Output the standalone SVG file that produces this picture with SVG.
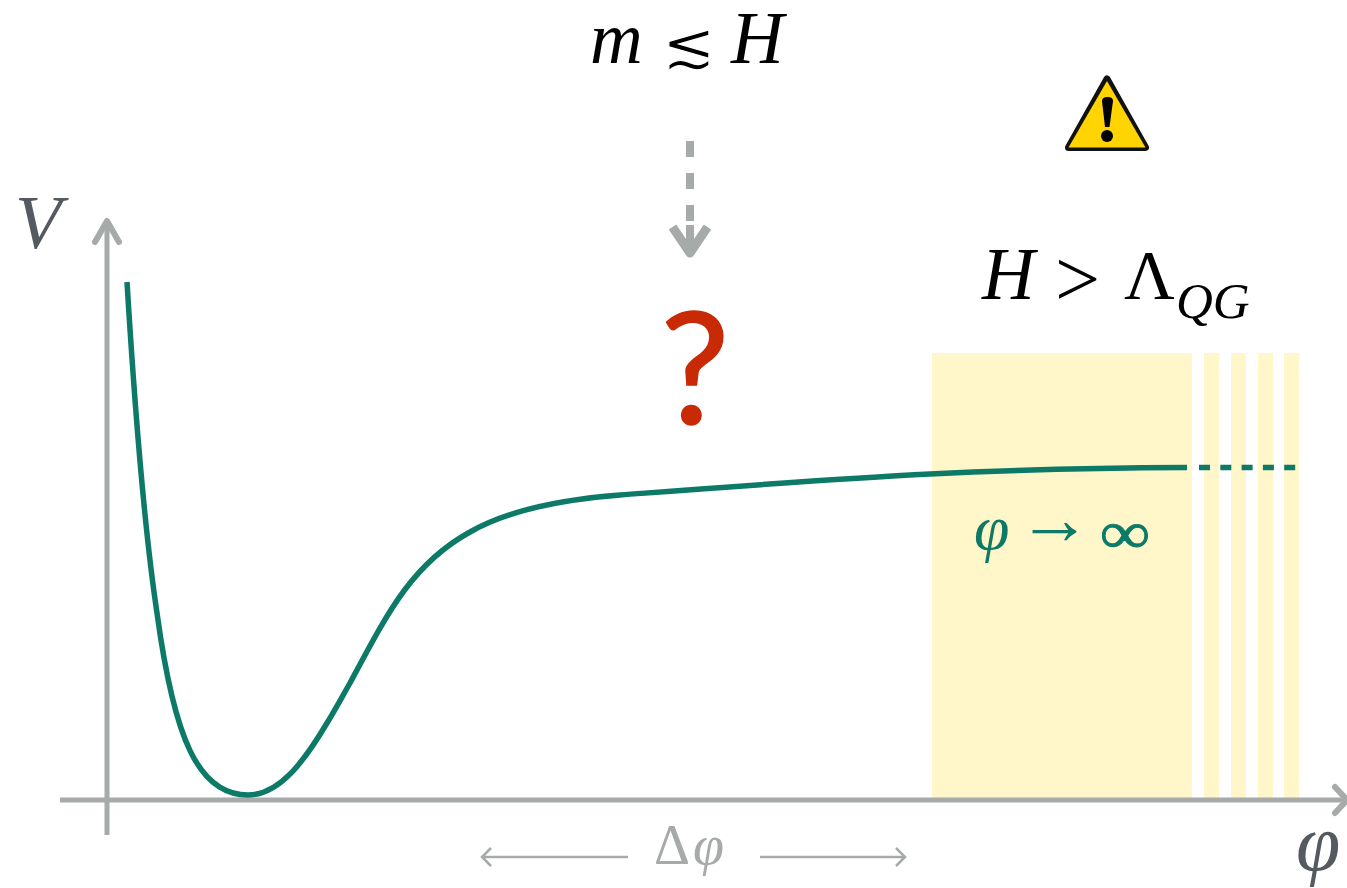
<svg xmlns="http://www.w3.org/2000/svg" width="1347" height="888" viewBox="0 0 1347 888">
<style>
.t{font-family:"Liberation Serif","Times New Roman",serif}
.i{font-style:italic}
.ax{fill:none;stroke:#a6aaa8;stroke-width:5;stroke-linecap:butt}
.hd{fill:none;stroke:#a6aaa8;stroke-width:6;stroke-linecap:round;stroke-linejoin:round}
.y{fill:#fff6c9}
.c{fill:none;stroke:#0c7a66;stroke-width:5.500}
.thin{fill:none;stroke:#a6aaa8;stroke-width:2.500}
</style>
<rect width="1347" height="888" fill="#fff"/>
<g id="band">
<rect class="y" x="932" y="353" width="260" height="445"/>
<rect class="y" x="1204" y="353" width="15" height="445"/>
<rect class="y" x="1231" y="353" width="15" height="445"/>
<rect class="y" x="1258" y="353" width="15" height="445"/>
<rect class="y" x="1284" y="353" width="15" height="445"/>
</g>
<g id="axes">
<path class="ax" d="M60 800H1345"/>
<path class="hd" d="M1335 787L1347 800L1335 813"/>
<path class="ax" d="M107 835V224"/>
<path class="hd" d="M95 242L107 221L119 242"/>
</g>
<g id="potential">
<path class="c" d="M127 282C133 380 143 520 157 613C174 738 198 795 248 795C280 795 305 760 327 723C335 710 342 697 350 683C388 612 412 564 470 532C505 512 555 500 620 495C720 487.500 830 479 930 474C1010 470 1090 468 1187 467.500"/>
<path class="c" d="M1199 467.500H1296" stroke-dasharray="11 10.300"/>
</g>
<g id="delta">
<path class="thin" d="M482 857H628M491 848L482 857L491 866"/>
<path class="thin" d="M760 857H905M896 848L905 857L896 866"/>
<text class="t" x="654" y="864" font-size="56" fill="#a6aaa8">Δ<tspan class="i" dx="3">φ</tspan></text>
</g>
<g id="label-v"><text class="t i" x="15" y="248" font-size="76" fill="#555a60">V</text></g>
<g id="label-phi"><text class="t i" x="1296" y="870" font-size="80" fill="#555a60">φ</text></g>
<g id="label-m"><text class="t i" x="590" y="63" font-size="73" fill="#000">m</text>
<text x="662" y="67" font-size="64" font-family="'DejaVu Sans',sans-serif" fill="#000" stroke="#fff" stroke-width="1.200">≲</text>
<text class="t i" x="731" y="63" font-size="73" fill="#000">H</text></g>
<g id="arrow-down">
<path d="M690 141V221" fill="none" stroke="#a6aaa8" stroke-width="8" stroke-dasharray="16 16"/>
<path d="M672.500 227L690 253L707.500 227" fill="none" stroke="#a6aaa8" stroke-width="9" stroke-linejoin="round"/>
<path d="M690 225V250" fill="none" stroke="#a6aaa8" stroke-width="8"/>
</g>
<g id="question"><text x="695" y="424" text-anchor="middle" font-size="155" font-family="Lato,sans-serif" font-weight="400" fill="#c92a06" stroke="#c92a06" stroke-width="1.500">?</text></g>
<g id="warning">
<path d="M1107 79L1145.500 147.500H1068.500Z" fill="#111" stroke="#111" stroke-width="7" stroke-linejoin="round"/>
<path d="M1107 81L1145.500 147.500H1068.500Z" fill="#ffd400"/>
<path d="M1102 101Q1102 97 1107.500 97Q1113 97 1113 101L1109.500 127H1105Z" fill="#000"/>
<circle cx="1107" cy="136" r="6" fill="#000"/>
</g>
<g id="label-h"><text class="t i" x="982" y="299" font-size="73" fill="#000">H</text>
<text class="t" x="1055" y="306" font-size="80" fill="#000">&gt;</text>
<text class="t" x="1124" y="299" font-size="70" fill="#000">Λ</text>
<text class="t i" x="1176" y="318" font-size="51" fill="#000">QG</text></g>
<g id="label-inf"><text class="t i" x="974" y="549" font-size="64" fill="#0c7a66">φ</text>
<text class="t" x="1054.500" y="544" font-size="74" text-anchor="middle" fill="#0c7a66">→</text>
<text class="t" transform="translate(1125 553) scale(1.18,1)" font-size="60" text-anchor="middle" fill="#0c7a66" stroke="#0c7a66" stroke-width="0.800">∞</text></g>
</svg>
